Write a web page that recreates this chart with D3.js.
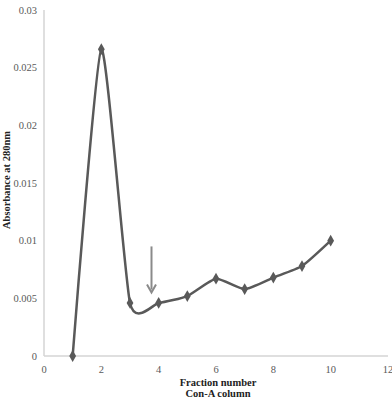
<!DOCTYPE html>
<html><head><meta charset="utf-8">
<script src="https://cdn.jsdelivr.net/npm/d3@7"></script>
<style>body{margin:0;background:#fff}</style>
</head><body>
<script>
const fractions = [1,2,3,4,5,6,7,8,9,10];
const absorbance = [0,0.0266,0.0046,0.0046,0.0052,0.0067,0.0058,0.0068,0.0078,0.0100];
const xTicks = [0,2,4,6,8,10,12];
const yTicks = [0,0.005,0.01,0.015,0.02,0.025,0.03];
const yTickLabels = ["0","0.005","0.01","0.015","0.02","0.025","0.03"];
const arrowX = 3.75, arrowY = [0.0095, 0.0055];

const W=392,H=398;
const svg=d3.select("body").append("svg").attr("width",W).attr("height",H);
const x=d3.scaleLinear().domain([0,12]).range([44,388]);
const y=d3.scaleLinear().domain([0,0.03]).range([356,10]);
const serif="'Liberation Serif','Times New Roman',serif";

svg.append("line").attr("x1",x(0)).attr("x2",x(0)).attr("y1",y(0.03)).attr("y2",y(0)).attr("stroke","#d4d4d4").attr("stroke-width",1.5);
svg.append("line").attr("x1",x(0)).attr("x2",x(12)).attr("y1",y(0)).attr("y2",y(0)).attr("stroke","#d4d4d4").attr("stroke-width",1.5);

svg.selectAll(".yt").data(yTicks).enter().append("text")
 .attr("x",x(0)-7).attr("y",d=>y(d)+3.5).attr("text-anchor","end")
 .attr("font-family",serif).attr("font-size",10.5).attr("fill","#595959")
 .text((d,i)=>yTickLabels[i]);
svg.selectAll(".xt").data(xTicks).enter().append("text")
 .attr("x",d=>x(d)).attr("y",y(0)+17).attr("text-anchor","middle")
 .attr("font-family",serif).attr("font-size",10.5).attr("fill","#595959")
 .text(d=>d);

svg.append("text").attr("transform",`translate(10,${180}) rotate(-90)`).attr("text-anchor","middle")
 .attr("font-family",serif).attr("font-weight","bold").attr("font-size",10.5).attr("fill","#222").text("Absorbance at 280nm");
svg.append("text").attr("x",218).attr("y",386).attr("text-anchor","middle")
 .attr("font-family",serif).attr("font-weight","bold").attr("font-size",10.5).attr("fill","#222").text("Fraction number");
svg.append("text").attr("x",218).attr("y",397).attr("text-anchor","middle")
 .attr("font-family",serif).attr("font-weight","bold").attr("font-size",10.5).attr("fill","#222").text("Con-A column");

const pts=fractions.map((f,i)=>[f,absorbance[i]]);
const line=d3.line().x(d=>x(d[0])).y(d=>y(d[1])).curve(d3.curveCardinal.tension(0.45));
svg.append("path").datum(pts).attr("d",line).attr("fill","none").attr("stroke","#595959").attr("stroke-width",2.5);
svg.selectAll(".m").data(pts).enter().append("path")
 .attr("d",d3.symbol(d3.symbolDiamond,40))
 .attr("transform",d=>`translate(${x(d[0])},${y(d[1])})`).attr("fill","#595959");

const ax=x(arrowX), y1=y(arrowY[0]), y2=y(arrowY[1]);
svg.append("line").attr("x1",ax).attr("x2",ax).attr("y1",y1).attr("y2",y2-3).attr("stroke","#8a8a8a").attr("stroke-width",2);
svg.append("path").attr("d",`M${ax-4.5},${y2-8} L${ax},${y2} L${ax+4.5},${y2-8}`).attr("fill","none").attr("stroke","#8a8a8a").attr("stroke-width",2);
</script>
</body></html>
